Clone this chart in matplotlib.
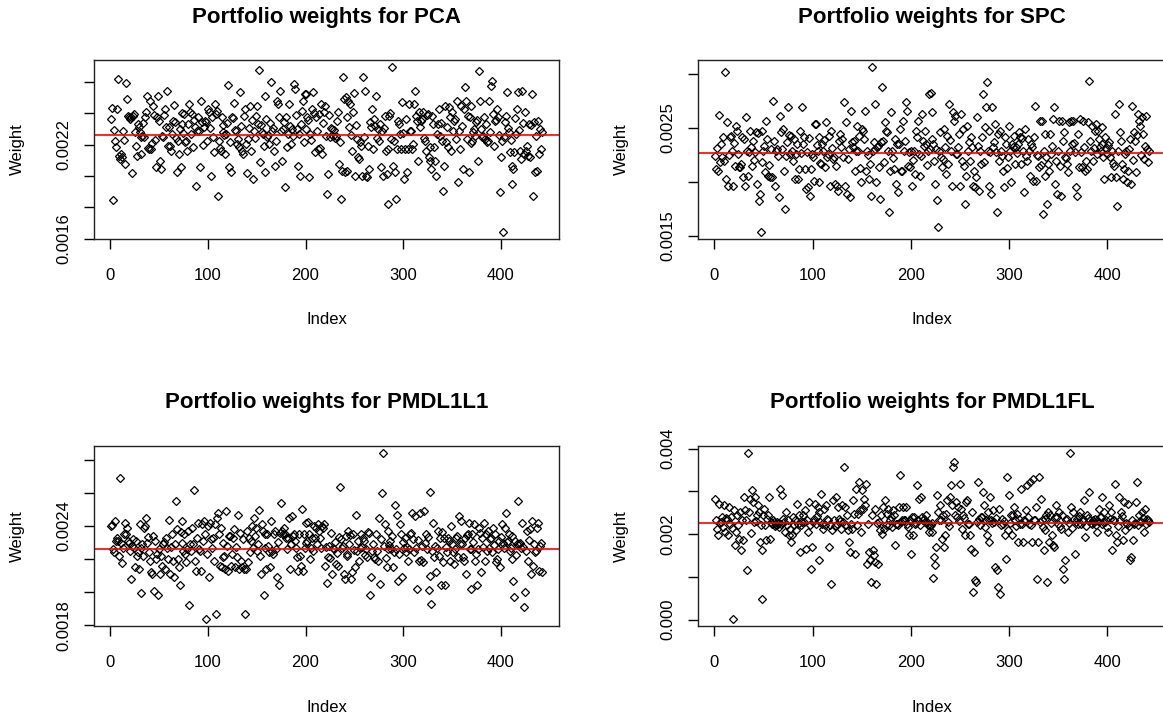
import numpy as np
import matplotlib
matplotlib.use('Agg')
import matplotlib.pyplot as plt

plt.rcParams['font.family'] = ['Liberation Sans', 'DejaVu Sans']

n_assets = 442

# portfolio weights, in units of 1e-6 (index 1..442)
pca_w = [
    2364,2435,1845,2294,2222,2183,2428,2620,2130,2109,2141,2119,2290,
    2230,2077,2592,2492,2386,2375,2364,2375,2017,2386,2396,2279,2194,2130,2335,
    2315,2279,2141,2251,2258,2337,2247,2375,2407,2513,
    2179,2173,2481,2173,2210,2450,2392,2230,2060,2380,2513,2354,2098,2045,2255,2247,2392,2428,2315,2545,
    2194,2315,2190,2162,2268,2350,2456,2343,2240,2024,2226,2141,2300,2055,2332,2405,2273,2396,2220,2226,
    2162,2330,2460,2407,2270,2396,2183,2360,2311,1938,
    2290,2375,2285,2060,2481,2343,2200,2311,2354,2345,2226,2428,2407,2310,2002,2375,2250,2151,2460,2395,2418,1874,
    2226,2180,2162,2375,2325,2279,2265,2141,2268,2340,2582,
    2055,2215,2024,2375,2370,2464,2295,2290,2205,2235,2183,2535,2320,2162,2141,2385,2428,2205,2017,2237,
    2305,2450,2162,2355,1981,2290,2245,2386,2450,2330,2677,
    2087,2328,2280,2268,2195,2513,2024,2365,2247,2260,2205,2340,2599,
    2290,2310,2162,2066,2225,2481,2460,2375,2545,2290,2098,2300,2345,1928,
    2375,2185,2268,2460,2320,2205,2300,2255,2588,
    2556,2390,2300,2066,2270,2002,2335,2418,2481,2215,2524,2524,2300,2375,2360,1992,2268,2230,2428,2535,
    2405,2151,2375,2285,2173,2396,2180,2460,2141,2340,2407,2450,2255,1885,
    2013,2390,2247,2310,
    2300,2258,2295,2243,2258,2350,2407,2077,2215,1853,2034,2635,2492,2024,2503,2380,2034,2481,2311,2460,
    2260,2162,2407,2528,2002,2325,2237,2119,2109,2215,2190,2002,2631,
    2247,2545,2002,1992,2194,2045,2345,2311,2428,2173,2364,2322,2513,2240,2300,2226,2332,2055,2290,2002,
    2305,2386,2162,2013,1821,
    2173,2386,2400,2237,2699,2066,2225,2024,1853,
    2173,2354,2335,2268,2173,2471,2275,1981,2173,2365,2024,2173,2460,2285,2290,2173,2205,2460,2545,2386,
    2350,2098,2407,2315,2354,2364,2407,2245,2226,2162,2390,2396,2119,2098,2185,2045,2386,2330,2183,2098,
    2002,2270,2332,2428,2258,2340,2226,1902,
    2066,2450,2220,2311,2183,2439,2375,2162,2407,2290,2354,2364,2235,2481,1960,
    2290,2173,2450,2320,2045,2428,2567,
    2481,2237,2385,2024,2375,2450,2210,2226,2279,2300,2258,2343,2355,2098,2673,
    2481,2300,2250,2258,2375,2237,2330,2215,2226,2481,2280,2577,2609,
    2396,2195,2354,2360,2428,2375,2265,1896,
    2119,2226,1640,
    2247,2345,2386,2535,2310,2279,2151,2230,1949,
    2066,2045,2151,2370,2268,2428,2535,2295,2162,2109,2545,2340,2141,2407,2162,2190,2130,2332,2119,2325,
    2524,1874,
    2343,2024,2255,2034,2354,2141,2300,2173,2279,
]

spc_w = [
    2242,2118,2310,2103,2623,2180,2351,2227,2420,2196,3017,2025,2552,1963,2250,2413,2428,2289,1963,2360,
    2149,2521,2475,2258,2140,2134,2165,2413,2041,2400,1963,2598,2289,2056,2280,2475,2320,2149,2382,2200,
    2273,2459,1979,2450,1824,1886,1530,
    2475,2180,2289,2330,2087,2567,2397,2056,2160,2041,2304,2041,2753,2380,1963,2289,2304,2240,1855,2614,
    2459,2300,2490,2103,1746,
    2242,2366,2691,2430,2258,2428,2289,2190,2397,2025,2258,2350,2025,2118,2475,2270,2691,2351,2413,2120,
    1932,2273,1948,2410,1870,2118,2258,2230,2010,2536,2536,2340,2289,1994,2413,2170,2165,2351,2289,2390,
    2134,2552,2227,2260,2428,1963,2475,2310,2211,2227,1979,2150,1963,1917,2382,2440,2320,2397,2227,2738,
    1963,2552,1886,2210,2304,1855,2660,2370,2320,2382,2103,2290,2521,2289,2428,2130,1994,2490,2475,2400,
    2660,2103,2289,2250,2025,2165,1870,
    3069,2289,2366,2722,2304,1994,2320,2335,2134,1839,2366,2877,
    2382,2180,2552,2475,2460,2289,1715,
    2103,2645,2289,2220,2118,2397,1979,2350,1901,2351,2490,2100,2103,2567,2289,2380,2738,2660,2149,2280,
    2134,2289,1963,2200,2289,2072,2475,2420,2567,2258,2056,2240,2629,2382,2330,2475,2351,2160,2289,2815,
    2300,
    2821,2645,2397,2351,2196,1979,2300,1830,1576,2289,2459,2227,2134,2210,2490,2320,2072,2428,2165,2722,
    2390,2289,1963,2645,2567,2614,2258,2260,2320,2444,1963,2629,2196,2490,2150,1793,2056,2521,2289,2366,
    2196,2420,2320,1963,2103,1948,2041,2598,2330,1917,2289,2165,2413,2815,2180,2505,2691,2924,
    2289,2475,1963,2280,1886,2691,2320,2370,2536,2273,1715,
    2444,2196,2475,2289,2240,2103,1948,2413,2351,2130,2227,2521,2289,1994,2350,2320,2428,2165,2320,2270,
    2351,2459,2413,2165,2410,2289,1901,2490,2242,2190,2397,2289,2056,2351,2320,2010,2413,2707,2010,2250,
    2242,2134,2567,2160,2567,1700,
    2289,2056,2444,2227,1793,2165,2103,2440,2258,2335,2583,2691,1979,2196,1886,2290,2567,2149,1870,2567,
    2382,2459,2227,2220,2165,2087,2552,2289,2567,2351,2567,2360,2273,1948,1870,2444,2134,2583,2273,2140,
    2567,2320,2103,2196,2118,2552,2939,
    2382,2289,2521,2196,2310,2475,2536,2258,2475,2400,2320,2289,2505,2351,2230,2025,2413,2304,2258,2340,
    2366,2227,2041,2289,2170,2149,2629,2041,1777,
    2289,2722,2459,2380,2165,2025,2118,2260,2289,1994,2103,2300,2397,1979,2707,2200,2459,2382,2087,2430,
    2629,2567,2521,2250,2598,2444,2211,2330,2614,2304,
    2180,2290,
]

pmdl1l1_w = [
    2398,2404,2260,2239,2432,2310,2328,2308,2220,
    2690,2298,2173,2268,2348,2418,2350,2388,2308,2298,2249,2079,2280,2318,2268,2149,2308,2219,2240,2139,
    2408,2268,1994,
    2288,2219,2388,2398,2448,2298,2330,2239,2189,2119,2109,2338,2006,2308,2200,2229,1980,2258,2109,2219,
    2159,2288,2300,2139,2328,2268,2199,2438,2109,2270,2348,2189,2089,2288,2547,
    2378,2199,2149,2040,2360,2298,2432,2249,2348,2230,2179,2258,2368,1920,2290,2249,2388,2288,2617,
    2189,2129,2328,2418,2258,2250,2129,2408,2308,2428,2348,1835,
    2229,2398,2089,2418,2320,2268,2328,2189,2408,1870,
    2448,2477,2348,2159,2388,2149,2210,2298,2219,2139,2487,2278,2129,2340,2338,2159,2229,2328,2378,2149,
    2270,2209,2467,2139,2358,2190,2149,2318,2139,1870,
    2139,2368,2179,2328,2239,2310,2398,2268,2448,2338,2388,2250,2288,2497,2219,2109,2408,2370,1980,2348,
    2268,2139,2348,2280,2239,2149,2428,2249,2230,2348,2368,2258,2089,2300,2040,2358,2537,
    2368,2348,2388,2348,2328,2260,2328,2448,2139,2288,2457,2340,2348,2308,2268,2209,2129,2348,2215,2159,
    2503,2129,2348,2268,2418,2295,2308,2424,2348,2199,2268,2328,2245,2398,2328,2388,2288,2408,2368,2325,
    2268,2398,2388,2408,2159,2275,2054,2209,2278,
    2205,2355,
    2109,2265,2258,2300,2169,2235,2159,2330,
    2636,2318,2268,2280,2109,2079,2338,2215,2229,2368,2288,2345,2079,2119,2348,2255,2149,2467,2249,2310,
    2189,2268,2348,2270,2328,2308,2225,2258,2209,2360,2358,1980,
    2089,2249,2290,2209,2199,2348,2245,2189,2448,2050,2320,2597,2842,
    2278,2408,2205,2149,2258,2368,2285,2308,2258,2340,2149,2239,2527,2260,2467,2069,2230,2408,2348,2089,
    2305,2268,2328,2239,2275,2189,2258,2350,2358,2477,2318,2240,2457,2268,2020,2315,2189,2477,2195,2278,
    2179,2487,2295,2348,2258,2335,2010,2607,
    2099,1930,2250,2418,2209,2280,2119,2268,2368,2220,2328,2040,2365,2179,2328,2040,2270,2239,2328,2310,
    2189,2398,2288,2240,2169,2258,2325,2338,2209,2457,2290,2428,2288,2210,2189,2328,2109,2345,2348,2418,
    2260,2258,2020,2348,2300,2408,2189,2230,2040,2258,2388,2355,2119,2328,2275,2418,2189,2348,2245,2368,
    2268,2320,2328,2239,2388,2285,2348,2179,2200,2258,2308,2149,2335,2408,2298,2265,2388,2477,2305,2308,
    2348,2250,2268,2199,2340,2069,1970,
    2308,2225,2288,2547,2288,2295,2268,2418,2270,1910,
    2000,2249,2368,2189,2315,2378,2109,2428,2159,2288,2240,2249,2388,2418,2129,2280,2298,2119,
]

pmdl1fl_w = [
    2828,2320,2125,1969,2711,2250,2281,2398,2164,2672,2047,2380,2359,1969,2633,2242,2398,2150,
    5,2555,1735,2047,2437,2203,1891,2516,1618,2320,1852,2867,2555,2320,1165,3906,2516,2828,2032,3023,
    2750,2281,2867,2310,2437,2672,2516,1813,2203,1618,485,
    2437,2594,2203,1852,2359,2450,2867,1891,2281,2242,2320,2281,2200,2203,2281,2242,2164,3063,
    2242,2906,2359,2281,2047,2516,2203,2340,1969,2125,1813,1969,2398,2203,2320,2100,2711,2242,2437,1579,
    2203,2281,2437,2280,2555,1657,2320,2047,2750,2203,1188,
    1696,2281,2359,2711,2242,2420,2633,1384,2516,2281,2945,2230,2125,2594,2203,2672,2360,2320,1696,2203,
    837,
    2086,2789,2320,2180,2867,2242,2633,2359,2300,2125,2672,2281,3570,
    2633,2203,2437,2086,1813,1579,2242,2125,2789,2477,1540,3063,2203,2470,3219,2555,2047,3023,2594,2828,
    2672,3180,1305,2242,1579,1384,876,
    2437,1618,1501,2594,1344,837,2260,1305,2281,2086,2437,2008,2633,2130,2789,2203,2477,2594,2203,2320,
    2390,2164,2555,2437,1735,2240,2242,2203,2633,3375,
    2281,2320,2633,2330,2320,2633,2242,2170,1969,2320,1540,2410,1969,2398,2242,2270,3141,2320,2828,2210,
    2867,2398,2320,2350,2281,2437,2290,2203,2047,
    2190,
    2203,2260,2047,969,
    1461,1266,1696,2906,2516,2320,2672,2340,1891,2437,1696,1969,2477,2789,2281,2190,2867,3141,2672,3570,
    3687,
    2437,2750,2398,2633,2300,3180,2594,2125,2437,2380,1969,2750,2789,2242,2230,1969,1657,2516,641,
    1579,915,876,2290,3219,2359,2203,2410,2398,2984,2672,2160,2320,1969,2516,2330,1813,2867,2320,2250,
    2555,2281,1227,2370,1149,759,
    2594,602,2210,2359,2242,2310,1969,1422,3336,
    2086,2906,2270,2437,1969,2440,2633,2320,2180,2477,1813,2350,2242,3063,2240,1813,2320,2300,2555,3141,
    2390,2242,3219,2220,1813,3297,2320,2320,2633,954,
    1813,3336,2280,2828,2320,2170,1618,2086,2360,2437,876,
    2516,1813,2437,2250,1969,1735,1696,2400,2672,2398,2242,2516,2200,2125,2437,1188,
    954,1383,2330,2359,2047,2270,3906,
    2633,2150,2516,2350,1540,2290,2359,2242,2420,2516,2230,2320,2310,2789,1930,2180,2437,2370,2984,2320,
    2260,2242,2340,2281,2359,2210,2047,2300,2594,2398,2390,2867,2240,2281,2516,2280,2320,2160,2047,2672,
    2360,2516,1618,2320,2320,3180,
    1969,1813,2200,2867,2320,2516,2430,1852,2750,2086,2270,2242,2711,2190,1383,1461,2340,1852,2242,2250,
    2750,3219,
    2203,2437,2310,2281,2516,2380,2047,2594,2230,2359,2320,
    2290,
]

titles = ['Portfolio weights for PCA', 'Portfolio weights for SPC',
          'Portfolio weights for PMDL1L1', 'Portfolio weights for PMDL1FL']

xticks = [0, 100, 200, 300, 400]
yticks = [
    [0.0016, 0.0018, 0.0020, 0.0022, 0.0024, 0.0026],
    [0.0015, 0.0020, 0.0025, 0.0030],
    [0.0018, 0.0020, 0.0022, 0.0024, 0.0026, 0.0028],
    [0.000, 0.001, 0.002, 0.003, 0.004],
]
yticklabels = [
    ['0.0016', '', '', '0.0022', '', ''],
    ['0.0015', '', '0.0025', ''],
    ['0.0018', '', '', '0.0024', '', ''],
    ['0.000', '', '0.002', '', '0.004'],
]

W, H = 1163, 720
# plot boxes in pixels: left, top, right, bottom
boxes = [(94, 60, 559, 239), (698, 60, 1166, 239),
         (94, 446, 559, 626), (698, 446, 1166, 626)]

fig = plt.figure(figsize=(W / 100, H / 100), dpi=100)
fig.patch.set_facecolor('white')

all_w = [pca_w, spc_w, pmdl1l1_w, pmdl1fl_w]
for w, title, yt, ytl, box in zip(all_w, titles, yticks, yticklabels, boxes):
    l, t, r, b = box
    ax = fig.add_axes([l / W, 1 - b / H, (r - l) / W, (b - t) / H])
    w = np.array(w) * 1e-6
    idx = np.arange(1, len(w) + 1)
    ax.plot(idx, w, linestyle='none', marker='D', ms=4.3, mfc='none',
            mec='black', mew=0.9)
    ax.axhline(1 / n_assets, color='red', lw=1.2)
    ax.margins(x=0.04, y=0.04)

    ax.set_xticks(xticks)
    ax.set_yticks(yt)
    ax.set_yticklabels(ytl, rotation=90, va='center')
    ax.tick_params(direction='out', length=7, width=1, labelsize=12,
                   colors='black', top=False, right=False)
    ax.tick_params(axis='x', pad=14)
    ax.tick_params(axis='y', pad=9)
    for s in ax.spines.values():
        s.set_linewidth(1.0)
        s.set_color('#222222')

    ax.set_xlabel('Index', fontsize=12, va='center')
    ax.xaxis.set_label_coords(0.5, -0.45)
    ax.set_ylabel('Weight', fontsize=12, va='center')
    ax.yaxis.set_label_coords(-0.164, 0.5)
    ax.text(0.5, 1.24, title, transform=ax.transAxes, ha='center',
            va='center', fontsize=16, fontweight='bold')

fig.savefig('out.png', dpi=100)
